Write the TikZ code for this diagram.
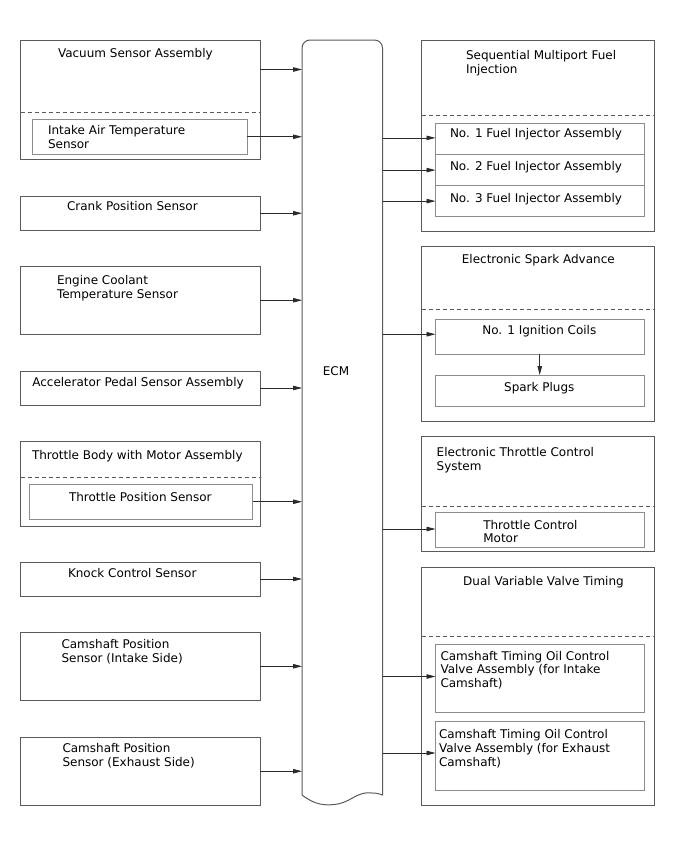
\documentclass[tikz,border=0pt]{standalone}
\usepackage{fontspec}
\setmainfont{DejaVu Sans}
\usetikzlibrary{arrows.meta}
\newcommand\fstr{\rule{0pt}{10.5pt}}
\definecolor{outerc}{HTML}{5A5A5A}
\definecolor{innerc}{HTML}{8C8C8C}
\definecolor{arrc}{HTML}{2A2A2A}
\begin{document}
\begin{tikzpicture}[x=1pt,y=-1pt,
  outer/.style={draw=outerc, line width=1pt, anchor=north west, inner sep=0pt, outer sep=0pt},
  inner/.style={draw=innerc, line width=0.9pt, anchor=north west, inner sep=0pt, outer sep=0pt},
  dashline/.style={draw=outerc, line width=0.9pt, dash pattern=on 4pt off 3pt},
  lbl/.style={font=\fontsize{12}{14}\selectfont, inner sep=0pt, outer sep=0pt, align=left, anchor=north west},
  clbl/.style={lbl, anchor=north, align=center},
  arr/.style={draw=arrc, line width=0.8pt, -{Triangle[length=9pt,width=4.5pt]}},
  ecmline/.style={draw=outerc, line width=1pt},
]
\useasboundingbox (0,0) rectangle (688,852);

% ---------- left side ----------
\node[outer, minimum width=239.5pt, minimum height=119.5pt] (vac) at (20.5,40) {};
\draw[dashline] ([yshift=-12.25pt]vac.west) -- ([yshift=-12.25pt]vac.east);
\node[inner, minimum width=215pt, minimum height=34.5pt] (iat) at (32,119.5) {};
\node[lbl] (tvac) at (58,47.2) {\fstr Vacuum Sensor Assembly};
\node[lbl] (tiat) at (48,123.8) {\fstr Intake Air Temperature\\Sensor};

\node[outer, minimum width=239.5pt, minimum height=34.5pt] (crank) at (20.5,196) {};
\node[lbl] (tcrank) at (67,200.2) {\fstr Crank Position Sensor};

\node[outer, minimum width=239.5pt, minimum height=68.5pt] (ect) at (20.5,266) {};
\node[lbl] (tect) at (57,273.8) {\fstr Engine Coolant\\Temperature Sensor};

\node[outer, minimum width=239.5pt, minimum height=34pt] (app) at (20.5,371) {};
\node[lbl] (tapp) at (32.3,375.5) {\fstr Accelerator Pedal Sensor Assembly};

\node[outer, minimum width=239.5pt, minimum height=84.5pt] (tb) at (20.5,441.5) {};
\draw[dashline] ([yshift=6.75pt]tb.west) -- ([yshift=6.75pt]tb.east);
\node[inner, minimum width=223pt, minimum height=34.5pt] (tps) at (29.5,484.5) {};
\node[lbl] (ttb) at (32,448.5) {\fstr Throttle Body with Motor Assembly};
\node[lbl] (ttps) at (69,491.2) {\fstr Throttle Position Sensor};

\node[outer, minimum width=239.5pt, minimum height=34pt] (knock) at (20.5,562) {};
\node[lbl] (tknock) at (68,567.2) {\fstr Knock Control Sensor};

\node[outer, minimum width=239.5pt, minimum height=68.5pt] (cpi) at (20.5,632) {};
\node[lbl] (tcpi) at (61.5,637.8) {\fstr Camshaft Position\\Sensor (Intake Side)};

\node[outer, minimum width=239.5pt, minimum height=68.5pt] (cpe) at (20.5,737) {};
\node[lbl] (tcpe) at (62.5,742) {\fstr Camshaft Position\\Sensor (Exhaust Side)};

% ---------- ECM ----------
\node[anchor=north west, inner sep=0pt, outer sep=0pt, minimum width=80.5pt, minimum height=755pt] (ecm) at (302,40) {};
\draw[ecmline] (302,795) -- (302,48) arc[start angle=180, end angle=270, radius=8]
  -- (374.5,40) arc[start angle=270, end angle=360, radius=8]
  -- (382.5,795) .. controls (380,794) and (377,793) .. (372,793)
  .. controls (358,791) and (352,801) .. (338,804)
  .. controls (325,806) and (315,805) .. (302,795);
\node[lbl, anchor=north] (tecm) at (336,364.5) {\fstr ECM};

% ---------- right side ----------
\node[outer, minimum width=232.5pt, minimum height=191pt] (smfi) at (421.5,40) {};
\draw[dashline] ([yshift=20.5pt]smfi.west) -- ([yshift=20.5pt]smfi.east);
\node[inner, minimum width=208.5pt, minimum height=31.2pt] (fi1) at (435.5,123.3) {};
\node[inner, minimum width=208.5pt, minimum height=31.2pt] (fi2) at (435.5,154.5) {};
\node[inner, minimum width=208.5pt, minimum height=30.8pt] (fi3) at (435.5,185.7) {};
\node[lbl] (tsmfi) at (466,48.5) {\fstr Sequential Multiport Fuel\\Injection};
\node[lbl] (tfi1) at (450,127.2) {\fstr No. 1 Fuel Injector Assembly};
\node[lbl] (tfi2) at (450,159.5) {\fstr No. 2 Fuel Injector Assembly};
\node[lbl] (tfi3) at (450,192) {\fstr No. 3 Fuel Injector Assembly};

\node[outer, minimum width=232.5pt, minimum height=175pt] (esa) at (421.5,246) {};
\draw[dashline] ([yshift=24.5pt]esa.west) -- ([yshift=24.5pt]esa.east);
\node[inner, minimum width=208.5pt, minimum height=34.5pt] (ign) at (435.5,319.5) {};
\node[inner, minimum width=208.5pt, minimum height=31pt] (sp) at (435.5,375) {};
\node[clbl] (tesa) at (538.3,252.5) {\fstr Electronic Spark Advance};
\node[clbl] (tign) at (539.3,323.5) {\fstr No. 1 Ignition Coils};
\node[clbl] (tsp) at (539.3,380.5) {\fstr Spark Plugs};

\node[outer, minimum width=232.5pt, minimum height=115.5pt] (etc) at (421.5,436) {};
\draw[dashline] ([yshift=-12.75pt]etc.west) -- ([yshift=-12.75pt]etc.east);
\node[inner, minimum width=208.5pt, minimum height=34.6pt] (tcm) at (435.5,512.7) {};
\node[lbl] (tetc) at (436.7,446.2) {\fstr Electronic Throttle Control\\System};
\node[lbl, font=\fontsize{12}{13.4}\selectfont] (ttcm) at (483.3,518.5) {\fstr Throttle Control\\Motor};

\node[outer, minimum width=232.5pt, minimum height=238pt] (dvvt) at (421.5,567) {};
\draw[dashline] ([yshift=50pt]dvvt.west) -- ([yshift=50pt]dvvt.east);
\node[inner, minimum width=208.5pt, minimum height=68pt] (ocv1) at (435.5,644) {};
\node[inner, minimum width=208.5pt, minimum height=69pt] (ocv2) at (435.5,721) {};
\node[clbl] (tdvvt) at (543.5,574.5) {\fstr Dual Variable Valve Timing};
\node[lbl, font=\fontsize{12}{13.6}\selectfont] (tocv1) at (440.5,649.5) {\fstr Camshaft Timing Oil Control\\Valve Assembly (for Intake\\Camshaft)};
\node[lbl] (tocv2) at (439,727.5) {\fstr Camshaft Timing Oil Control\\Valve Assembly (for Exhaust\\Camshaft)};

% ---------- connectors ----------
\draw[arr] ([yshift=30.25pt]vac.east) coordinate (s1) -- (s1 -| ecm.west);
\draw[arr] (iat.east) -- (iat.east -| ecm.west);
\draw[arr] (crank.east) -- (crank.east -| ecm.west);
\draw[arr] (ect.east) -- (ect.east -| ecm.west);
\draw[arr] (app.east) -- (app.east -| ecm.west);
\draw[arr] (tps.east) -- (tps.east -| ecm.west);
\draw[arr] (knock.east) -- (knock.east -| ecm.west);
\draw[arr] (cpi.east) -- (cpi.east -| ecm.west);
\draw[arr] (cpe.east) -- (cpe.east -| ecm.west);

\draw[arr] ([yshift=1pt]fi1.west -| ecm.east) -- ([yshift=1pt]fi1.west);
\draw[arr] (fi2.west -| ecm.east) -- (fi2.west);
\draw[arr] (fi3.west -| ecm.east) -- (fi3.west);
\draw[arr] ([yshift=2.5pt]ign.west) coordinate (e1) (e1 -| ecm.east) -- (e1);
\draw[arr] (ign.south) -- (sp.north);
\draw[arr] ([yshift=1pt]tcm.west -| ecm.east) -- ([yshift=1pt]tcm.west);
\draw[arr] ([yshift=1.5pt]ocv1.west -| ecm.east) -- ([yshift=1.5pt]ocv1.west);
\draw[arr] ([yshift=2.5pt]ocv2.west -| ecm.east) -- ([yshift=2.5pt]ocv2.west);
\end{tikzpicture}
\end{document}
